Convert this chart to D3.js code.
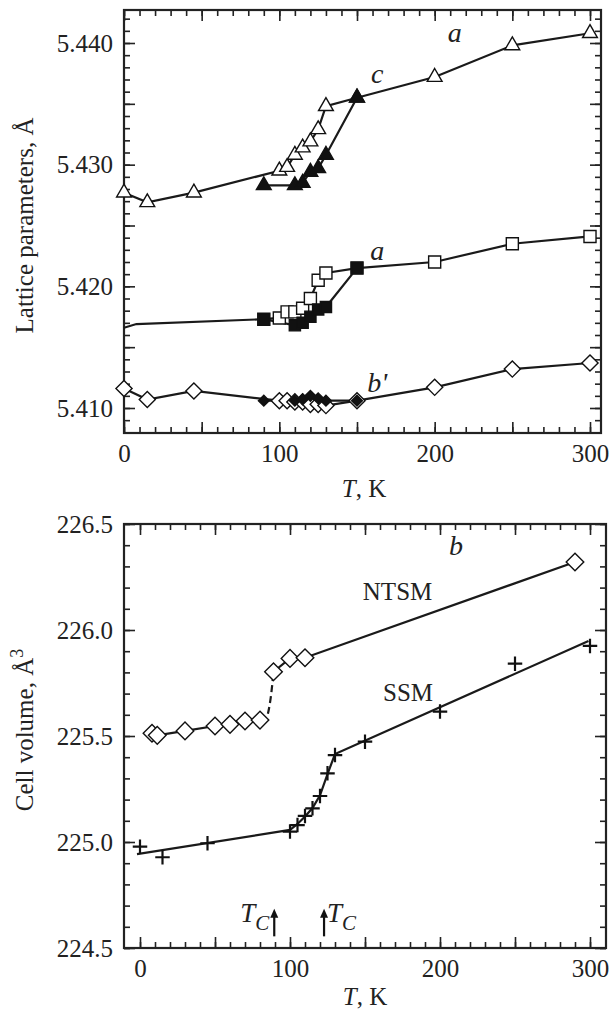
<!DOCTYPE html>
<html lang="en">
<head>
<meta charset="UTF-8" />
<title>Lattice parameters and cell volume vs T</title>
<style>
  body { margin: 0; background: #fff; }
  svg { display: block; font-family: "Liberation Serif", "DejaVu Serif", serif; }
  .lbl { font-size: 25px; fill: #222; }
</style>
</head>
<body>
<svg width="610" height="1015"></svg>
<script src="https://d3js.org/d3.v7.min.js"></script>
<script>
// ---- panel a: lattice parameters (open = heating, filled = cooling) ----
var cOpenT = [0, 15, 45, 100, 105, 110, 115, 120, 125, 130, 150, 200, 250, 300];
var cOpenV = [5.4277, 5.4269, 5.4277, 5.4295, 5.4298, 5.4308, 5.4314, 5.4319, 5.4329, 5.4348, 5.4355, 5.4372, 5.4398, 5.4408];
var cFillT = [90, 110, 115, 120, 125, 130, 150];
var cFillV = [5.4283, 5.4283, 5.4285, 5.4294, 5.4297, 5.4308, 5.4355];

var aBaseT = [0, 8, 90];
var aBaseV = [5.4166, 5.4169, 5.4173];
var aOpenT = [90, 100, 105, 110, 115, 120, 125, 130, 150, 200, 250, 300];
var aOpenV = [5.4173, 5.4174, 5.4179, 5.4179, 5.4182, 5.4190, 5.4205, 5.4211, 5.4215, 5.4220, 5.4235, 5.4241];
var aFillT = [90, 110, 115, 120, 125, 130, 150];
var aFillV = [5.4173, 5.4168, 5.4170, 5.4175, 5.4181, 5.4183, 5.4215];

var bOpenT = [0, 15, 45, 100, 105, 110, 115, 120, 125, 130, 150, 200, 250, 300];
var bOpenV = [5.4116, 5.4107, 5.4114, 5.4106, 5.4106, 5.4105, 5.4105, 5.4103, 5.4103, 5.4102, 5.4106, 5.4117, 5.4132, 5.4137];
var bFillT = [90, 110, 115, 120, 125, 130, 150];
var bFillV = [5.4106, 5.4106, 5.4107, 5.4110, 5.4108, 5.4106, 5.4106];

// ---- panel b: cell volume ----
var ntsmT = [8, 11.5, 30, 50, 60, 70, 80, 89, 100, 110, 290];
var ntsmV = [225.513, 225.503, 225.524, 225.547, 225.555, 225.571, 225.575, 225.803, 225.866, 225.869, 226.321];
var ntsmDashT = [80, 84.5, 86, 87.5, 89];
var ntsmDashV = [225.575, 225.59, 225.63, 225.70, 225.803];

var ssmT = [0, 15, 45, 100, 105, 110, 115, 120, 125, 130, 150, 200, 250, 300];
var ssmV = [224.978, 224.928, 224.994, 225.049, 225.080, 225.123, 225.159, 225.217, 225.324, 225.410, 225.473, 225.615, 225.841, 225.925];
var ssmFitT = [-2, 100, 105, 110, 115, 120, 125, 130, 299];
var ssmFitV = [224.943, 225.057, 225.085, 225.12, 225.16, 225.22, 225.32, 225.415, 225.948];

var tcT = [89.5, 122.7];

var serif = '"Liberation Serif", "DejaVu Serif", serif';
var svg = d3.select("svg");
var zip = function(t, v) { return t.map(function(d, i) { return [d, v[i]]; }); };

// boxes and scales
var boxA = {left: 124, right: 601, top: 10, bottom: 433};
var boxB = {left: 124, right: 606, top: 524, bottom: 948};
var xA = d3.scaleLinear().domain([0, 300]).range([124, 590]);
var yA = d3.scaleLinear().domain([5.410, 5.440]).range([408, 43]);
var xB = d3.scaleLinear().domain([0, 300]).range([140, 590]);
var yB = d3.scaleLinear().domain([224.5, 226.5]).range([948, 524]);

function frame(box, x, y, xMinor, xMajor, xFmt, yMinor, yMajor, yFmt) {
  var g = svg.append("g");
  var sides = [
    {ax: d3.axisBottom(x), t: "translate(0," + box.bottom + ")", v: [xMinor, xMajor], f: xFmt},
    {ax: d3.axisTop(x), t: "translate(0," + box.top + ")", v: [xMinor, xMajor], f: null},
    {ax: d3.axisLeft(y), t: "translate(" + box.left + ",0)", v: [yMinor, yMajor], f: yFmt},
    {ax: d3.axisRight(y), t: "translate(" + box.right + ",0)", v: [yMinor, yMajor], f: null}
  ];
  sides.forEach(function(s) {
    [0, 1].forEach(function(k) {
      var a = s.ax.tickValues(s.v[k]).tickSize(k ? -11 : -6).tickPadding(11)
        .tickFormat(k && s.f ? s.f : function() { return ""; });
      var ag = g.append("g").attr("transform", s.t).call(a)
        .attr("font-family", serif).attr("font-size", 25);
      ag.select(".domain").remove();
      ag.selectAll(".tick line").attr("stroke", "#222").attr("stroke-width", 1.6);
      ag.selectAll(".tick text").attr("fill", "#222")
        .style("font-family", serif).style("font-size", "25px");
    });
  });
  g.append("rect")
    .attr("x", box.left).attr("y", box.top)
    .attr("width", box.right - box.left).attr("height", box.bottom - box.top)
    .attr("fill", "none").attr("stroke", "#222").attr("stroke-width", 2.2);
}

frame(boxA, xA, yA,
  d3.range(0, 301, 10), d3.range(0, 301, 50), function(d) { return d % 100 === 0 ? d : ""; },
  d3.range(5408, 5443).map(function(d) { return d / 1000; }),
  d3.range(5410, 5441, 5).map(function(d) { return d / 1000; }),
  function(d) { return Math.round(d * 1000) % 10 === 0 ? d3.format(".3f")(d) : ""; });

frame(boxB, xB, yB,
  d3.range(0, 301, 10), d3.range(0, 301, 50), function(d) { return d % 100 === 0 ? d : ""; },
  d3.range(2245, 2266).map(function(d) { return d / 10; }),
  d3.range(2245, 2266, 5).map(function(d) { return d / 10; }),
  d3.format(".1f"));

function line(x, y, pts, dash) {
  svg.append("path")
    .attr("d", d3.line().x(function(d) { return x(d[0]); }).y(function(d) { return y(d[1]); })
      .curve(dash ? d3.curveMonotoneX : d3.curveLinear)(pts))
    .attr("fill", "none").attr("stroke", "#1a1a1a").attr("stroke-width", 2.2)
    .attr("stroke-dasharray", dash ? "7,4" : null);
}

function marks(x, y, pts, type, size, filled, rot) {
  svg.append("g").selectAll("path").data(pts).join("path")
    .attr("transform", function(d) { return "translate(" + x(d[0]) + "," + y(d[1]) + ")" + (rot ? " rotate(45)" : ""); })
    .attr("d", d3.symbol().type(type).size(size))
    .attr("fill", filled ? "#111" : "#fff")
    .attr("stroke", "#111").attr("stroke-width", 1.4);
}

var plus = {draw: function(ctx, size) {
  var r = Math.sqrt(size) / 2;
  ctx.moveTo(-r, 0); ctx.lineTo(r, 0);
  ctx.moveTo(0, -r); ctx.lineTo(0, r);
}};

// panel a lines
line(xA, yA, zip(cOpenT, cOpenV));
line(xA, yA, zip(cFillT, cFillV));
line(xA, yA, zip(aBaseT, aBaseV));
line(xA, yA, zip(aOpenT, aOpenV));
line(xA, yA, zip(aFillT, aFillV));
line(xA, yA, zip(bOpenT, bOpenV));
line(xA, yA, zip(bFillT, bFillV));

// panel a markers
marks(xA, yA, zip(cOpenT, cOpenV), d3.symbolTriangle, 95, false);
marks(xA, yA, zip(cFillT, cFillV), d3.symbolTriangle, 95, true);
marks(xA, yA, zip(aOpenT, aOpenV), d3.symbolSquare, 145, false);
marks(xA, yA, zip(aFillT, aFillV), d3.symbolSquare, 125, true);
marks(xA, yA, zip(bOpenT, bOpenV), d3.symbolSquare, 130, false, true);
marks(xA, yA, zip(bFillT, bFillV), d3.symbolSquare, 58, true, true);

// panel b lines and markers
line(xB, yB, zip(ntsmT, ntsmV).filter(function(d) { return d[0] <= 80; }));
line(xB, yB, zip(ntsmT, ntsmV).filter(function(d) { return d[0] >= 89; }));
line(xB, yB, zip(ntsmDashT, ntsmDashV), true);
line(xB, yB, zip(ssmFitT, ssmFitV));
marks(xB, yB, zip(ntsmT, ntsmV), d3.symbolSquare, 155, false, true);
svg.append("g").selectAll("path").data(zip(ssmT, ssmV)).join("path")
  .attr("transform", function(d) { return "translate(" + xB(d[0]) + "," + yB(d[1]) + ")"; })
  .attr("d", d3.symbol().type(plus).size(210))
  .attr("fill", "none").attr("stroke", "#111").attr("stroke-width", 2.2);

// Tc arrows
tcT.forEach(function(t) {
  var xx = xB(t), y0 = yB(224.555), y1 = yB(224.685);
  svg.append("line").attr("x1", xx).attr("x2", xx).attr("y1", y0).attr("y2", y1 + 6)
    .attr("stroke", "#111").attr("stroke-width", 2.2);
  svg.append("path").attr("d", "M" + (xx - 4) + "," + (y1 + 9) + "L" + xx + "," + y1 + "L" + (xx + 4) + "," + (y1 + 9) + "Z")
    .attr("fill", "#111");
});

function tc(xx, yy, anchor) {
  var t = svg.append("text").attr("class", "lbl").attr("x", xx).attr("y", yy)
    .attr("text-anchor", anchor).style("font-style", "italic").style("font-size", "27px");
  t.append("tspan").text("T");
  t.append("tspan").attr("dy", 8).style("font-size", "21px").text("C");
}
tc(xB(tcT[0]) - 5, yB(224.625), "end");
tc(xB(tcT[1]) + 3, yB(224.625), "start");

// in-plot labels
function lab(x, y, t, v, s, italic) {
  svg.append("text").attr("class", "lbl").attr("x", x(t)).attr("y", y(v))
    .attr("text-anchor", "middle")
    .style("font-style", italic ? "italic" : "normal")
    .style("font-size", italic ? "28px" : "25px").text(s);
}
lab(xA, yA, 213, 5.4401, "a", true);
lab(xA, yA, 163, 5.4367, "c", true);
lab(xA, yA, 163, 5.4222, "a", true);
lab(xA, yA, 163, 5.4113, "b'", true);
lab(xB, yB, 210.7, 226.354, "b", true);
lab(xB, yB, 171.7, 226.142, "NTSM", false);
lab(xB, yB, 178.7, 225.665, "SSM", false);

// axis titles
function tk(cx, cy) {
  var t = svg.append("text").attr("class", "lbl").attr("x", cx).attr("y", cy).attr("text-anchor", "middle");
  t.append("tspan").style("font-style", "italic").text("T");
  t.append("tspan").text(", K");
}
tk(364, 497);
tk(365, 1005);

svg.append("text").attr("class", "lbl")
  .attr("transform", "translate(33," + ((boxA.top + boxA.bottom) / 2 + 4) + ") rotate(-90)")
  .attr("text-anchor", "middle").text("Lattice parameters, Å");

var cv = svg.append("text").attr("class", "lbl")
  .attr("transform", "translate(33," + ((boxB.top + boxB.bottom) / 2 - 6) + ") rotate(-90)")
  .attr("text-anchor", "middle");
cv.append("tspan").text("Cell volume, Å");
cv.append("tspan").attr("dy", -10).style("font-size", "18px").text("3");
</script>
</body>
</html>
